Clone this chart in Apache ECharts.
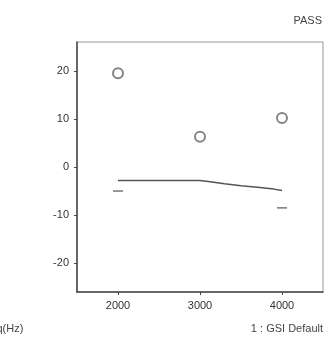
<!DOCTYPE html>
<html><head><meta charset="utf-8">
<script src="https://cdn.jsdelivr.net/npm/echarts@6/dist/echarts.min.js"></script>
<style>html,body{margin:0;padding:0;background:#fff}#c{width:329px;height:343px}</style>
</head><body><div id="c"></div>
<script>
var xTicks = [2000, 3000, 4000];
var yTicks = [-20, -10, 0, 10, 20];
var circlePoints = [[2000, 19.5], [3000, 6.3], [4000, 10.2]];
var curvePoints = [[2000, -2.8], [2500, -2.8], [3000, -2.8], [3100, -3.0], [3300, -3.5], [3500, -3.9], [3700, -4.2], [3900, -4.6], [4000, -4.9]];
var dashPoints = [[2000, -5.0], [4000, -8.5]];

var chart = echarts.init(document.getElementById('c'), null, {renderer: 'canvas'});
var font = 'Liberation Sans, Arial, sans-serif';
chart.setOption({
  animation: false,
  grid: {left: 77, top: 42, width: 246, height: 250, show: true, borderColor: '#999', borderWidth: 1},
  xAxis: {
    type: 'value', min: 1500, max: 4500,
    axisLine: {show: true, onZero: false, lineStyle: {color: '#444', width: 1.5}},
    axisTick: {show: true, customValues: xTicks, length: 3, lineStyle: {color: '#444'}},
    axisLabel: {customValues: xTicks, formatter: function (v) { return String(v); }, color: '#333', fontFamily: font, fontSize: 11, margin: 8},
    splitLine: {show: false}
  },
  yAxis: {
    type: 'value', min: -26, max: 26,
    axisLine: {show: true, onZero: false, lineStyle: {color: '#444', width: 1.5}},
    axisTick: {show: true, customValues: yTicks, length: 3, lineStyle: {color: '#444'}},
    axisLabel: {customValues: yTicks, color: '#333', fontFamily: font, fontSize: 11, margin: 8},
    splitLine: {show: false}
  },
  graphic: [
    {type: 'text', right: 7, top: 15, style: {text: 'PASS', fill: '#444', font: '11px ' + font}},
    {type: 'text', right: 6, top: 323, style: {text: '1 : GSI Default', fill: '#444', font: '11px ' + font}},
    {type: 'text', left: -20, top: 323, style: {text: 'Freq(Hz)', fill: '#444', font: '11px ' + font}}
  ],
  series: [
    {type: 'line', data: curvePoints, symbol: 'none', lineStyle: {color: '#555', width: 1.5}},
    {type: 'scatter', data: dashPoints, symbol: 'rect', symbolSize: [10, 1.5], itemStyle: {color: '#555'}},
    {type: 'scatter', data: circlePoints, symbol: 'emptyCircle', symbolSize: 10, itemStyle: {color: '#666', borderWidth: 1.5}}
  ]
});
</script></body></html>
